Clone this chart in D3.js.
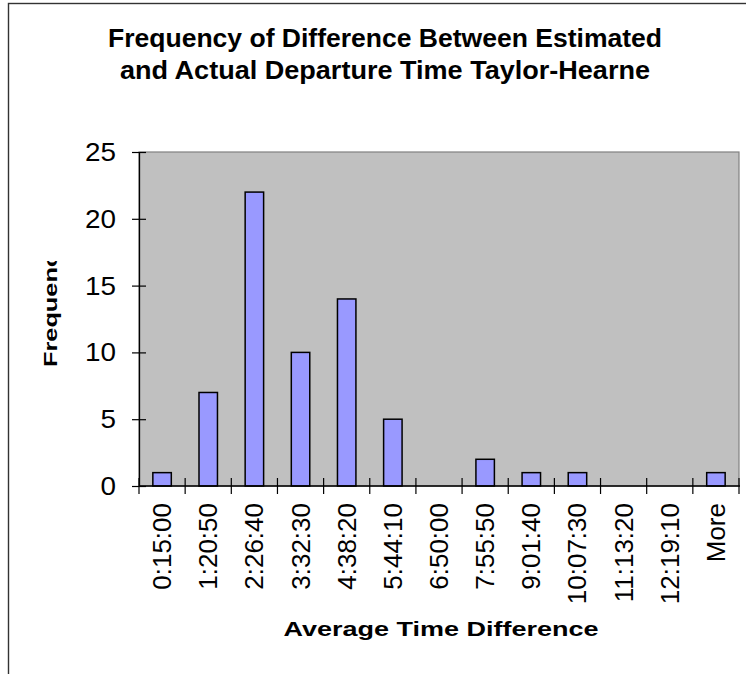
<!DOCTYPE html>
<html>
<head>
<meta charset="utf-8">
<script src="https://cdn.jsdelivr.net/npm/d3@7"></script>
<style>
  body { margin: 0; background: #ffffff; }
  svg { display: block; font-family: "Liberation Sans", Arial, sans-serif; }
</style>
</head>
<body>
<div id="chart"></div>
<script>
// bins of the histogram and the counts in each one
const categories = ["0:15:00", "1:20:50", "2:26:40", "3:32:30", "4:38:20", "5:44:10", "6:50:00",
    "7:55:50", "9:01:40", "10:07:30", "11:13:20", "12:19:10", "More"];
const frequency = [1, 7, 22, 10, 14, 5, 0, 2, 1, 1, 0, 0, 1];
const yTicks = [0, 5, 10, 15, 20, 25];
const titleLines = ["Frequency of Difference Between Estimated", "and Actual Departure Time Taylor-Hearne"];
const xTitle = "Average Time Difference";
const yTitle = "Frequency";

function main() {
    // plot area
    var width = 746, height = 674;
    var plot = { left: 139, top: 152, right: 739, bottom: 486 };

    var svg = d3.select("#chart")
        .append("svg")
        .attr("width", width)
        .attr("height", height);

    // chart border, cut by the picture on the right and bottom
    svg.append("rect")
        .attr("x", 8.5).attr("y", 3.5)
        .attr("width", 800).attr("height", 800)
        .attr("fill", "#ffffff")
        .attr("stroke", "#333333")
        .attr("stroke-width", 1.4);

    // title
    var titleLen = [554, 530];
    svg.append("g").selectAll("text")
        .data(titleLines)
        .enter()
        .append("text")
        .attr("x", 385)
        .attr("y", function (d, i) { return 47 + i * 32; })
        .attr("text-anchor", "middle")
        .attr("font-size", 25)
        .attr("font-weight", "bold")
        .attr("textLength", function (d, i) { return titleLen[i]; })
        .attr("lengthAdjust", "spacingAndGlyphs")
        .text(function (d) { return d; });

    // plot background
    svg.append("rect")
        .attr("x", plot.left).attr("y", plot.top)
        .attr("width", plot.right - plot.left)
        .attr("height", plot.bottom - plot.top)
        .attr("fill", "#c0c0c0")
        .attr("stroke", "#808080")
        .attr("stroke-width", 1.2);

    // scales
    var x = d3.scaleBand()
        .domain(categories)
        .range([plot.left, plot.right]);
    var y = d3.scaleLinear()
        .domain([0, 25])
        .range([plot.bottom, plot.top]);

    // bars
    var barW = x.bandwidth() * 0.4;
    svg.append("g").selectAll("rect")
        .data(frequency)
        .enter()
        .append("rect")
        .attr("x", function (d, i) { return x(categories[i]) + (x.bandwidth() - barW) / 2; })
        .attr("y", function (d) { return y(d); })
        .attr("width", barW)
        .attr("height", function (d) { return y(0) - y(d); })
        .attr("fill", "#9999ff")
        .attr("stroke", "#000000")
        .attr("stroke-width", 1.5);

    // Y axis
    var yAxis = svg.append("g")
        .attr("transform", "translate(" + plot.left + ",0)")
        .call(d3.axisLeft(y).tickValues(yTicks).tickSizeInner(7).tickSizeOuter(0).tickPadding(16));
    yAxis.select(".domain").attr("stroke", "#000000").attr("stroke-width", 1.3);
    yAxis.selectAll(".tick line").attr("x1", 7).attr("stroke", "#000000").attr("stroke-width", 1.2);
    yAxis.selectAll(".tick text")
        .attr("font-size", 25)
        .attr("font-family", "Liberation Sans, Arial, sans-serif")
        .attr("fill", "#000000")
        .attr("dy", "0.34em")
        .attr("textLength", function (d) { return String(d).length * 15.5; })
        .attr("lengthAdjust", "spacingAndGlyphs");

    // X axis line and the ticks between the bins
    var xAxis = svg.append("g");
    xAxis.append("line")
        .attr("x1", plot.left).attr("x2", plot.right + 1)
        .attr("y1", y(0)).attr("y2", y(0))
        .attr("stroke", "#000000")
        .attr("stroke-width", 1.3);
    var edges = categories.map(function (c) { return x(c); }).concat([x.range()[1]]);
    xAxis.selectAll(".xtick")
        .data(edges)
        .enter()
        .append("line")
        .attr("class", "xtick")
        .attr("x1", function (d) { return d; }).attr("x2", function (d) { return d; })
        .attr("y1", y(0) - 8).attr("y2", y(0) + 8)
        .attr("stroke", "#000000")
        .attr("stroke-width", 1.2);

    // X labels, turned upright
    xAxis.selectAll(".xlabel")
        .data(categories)
        .enter()
        .append("text")
        .attr("class", "xlabel")
        .attr("transform", function (d) {
            return "translate(" + (x(d) + x.bandwidth() / 2 + 9) + "," + (y(0) + 17) + ") rotate(-90)";
        })
        .attr("text-anchor", "end")
        .attr("font-size", 26)
        .text(function (d) { return d; });

    // axis titles
    svg.append("text")
        .attr("x", 441)
        .attr("y", 636)
        .attr("text-anchor", "middle")
        .attr("font-size", 21)
        .attr("font-weight", "bold")
        .attr("textLength", 315)
        .attr("lengthAdjust", "spacingAndGlyphs")
        .text(xTitle);

    // Y title is cut short in the reference
    svg.append("clipPath").attr("id", "ytclip")
        .append("rect")
        .attr("x", 0).attr("y", 261)
        .attr("width", 120).attr("height", 200);
    svg.append("g")
        .attr("clip-path", "url(#ytclip)")
        .append("text")
        .attr("transform", "translate(57,367) rotate(-90)")
        .attr("text-anchor", "start")
        .attr("font-size", 19)
        .attr("font-weight", "bold")
        .attr("textLength", 128)
        .attr("lengthAdjust", "spacingAndGlyphs")
        .text(yTitle);
}

main();
</script>
</body>
</html>
